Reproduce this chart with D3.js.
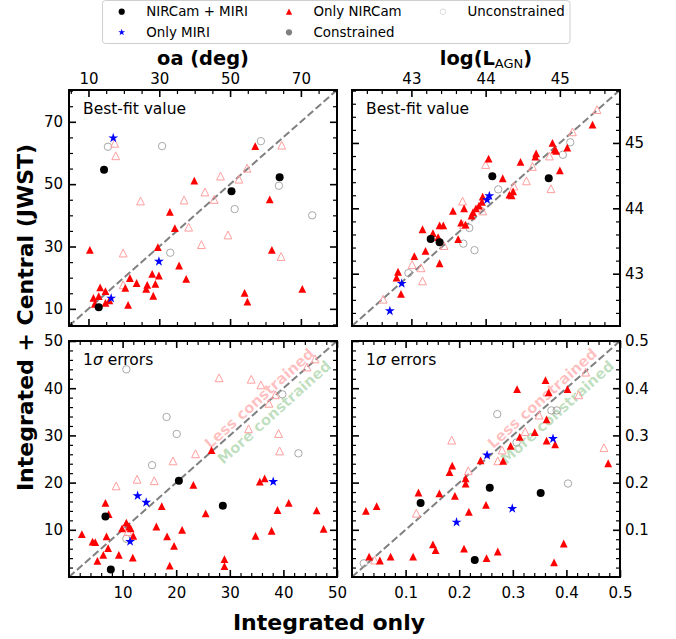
<!DOCTYPE html>
<html>
<head>
<meta charset="utf-8">
<script src="https://cdn.jsdelivr.net/npm/d3@7"></script>
<style>
  html, body { margin: 0; padding: 0; background: #fff; }
  svg { display: block; font-family: "DejaVu Sans", sans-serif; }
</style>
</head>
<body>
<svg id="chart" width="676" height="639"></svg>
<script>
// Each point: [integrated only, integrated + central (JWST)]

// Opening angle, best-fit value (deg)
const oaBestBoth = [[14.4,54.6],[50.4,47.7],[64.0,52.2],[12.9,10.5]];
const oaBestMiri = [[17.0,64.8],[29.9,25.2],[16.4,13.4]];
const oaBestNircam = [[10.4,28.9],[29.6,29.8],[33.0,41.1],[34.4,35.9],[39.9,51.1],[57.1,62.2],[61.2,45.1],[61.8,28.9],[35.6,23.9],[37.6,19.6],[28.0,21.2],[29.9,20.7],[28.9,18.0],[26.6,17.7],[26.3,16.4],[28.3,14.2],[23.6,18.3],[21.7,19.9],[20.4,16.7],[21.2,11.3],[13.3,16.9],[14.8,15.7],[11.4,13.5],[12.9,14.1],[11.8,11.6],[14.8,11.9],[15.9,12.7],[54.1,15.1],[54.9,12.3],[70.4,16.4]];
const oaBestNircamFree = [[17.4,63.1],[17.7,59.1],[24.7,44.6],[37.0,44.9],[42.9,47.5],[45.5,45.1],[47.3,52.6],[52.5,51.6],[54.8,55.1],[64.6,62.5],[38.3,36.2],[41.9,30.6],[49.4,33.7],[64.4,26.8],[19.8,27.9],[19.8,17.7]];
const oaBestFree = [[15.5,62.0],[30.8,62.2],[58.7,63.8],[63.8,49.5],[51.3,42.0],[73.2,40.0],[33.1,28.0]];

// AGN luminosity, best-fit value (log)
const lumBestBoth = [[44.09,44.49],[44.85,44.46],[43.26,43.53],[43.38,43.48]];
const lumBestMiri = [[42.71,42.43],[42.87,42.85],[44.02,44.13],[44.05,44.19]];
const lumBestNircam = [[45.44,45.28],[44.90,45.00],[44.93,44.90],[44.95,44.88],[45.10,44.93],[45.00,44.58],[44.68,44.84],[44.67,44.79],[44.47,44.71],[44.04,44.76],[44.23,44.46],[44.37,44.26],[44.32,44.21],[44.35,44.20],[43.96,44.18],[43.95,44.10],[43.91,44.04],[43.87,44.00],[43.83,43.94],[43.81,43.89],[43.56,43.96],[43.71,44.00],[43.67,43.78],[43.73,43.75],[43.38,43.74],[43.43,43.74],[43.15,43.68],[43.29,43.62],[43.36,43.56],[43.63,43.53],[43.19,43.35],[43.04,43.27],[43.38,43.16],[42.82,43.03],[42.80,42.94],[42.86,42.69]];
const lumBestNircamFree = [[42.62,42.61],[43.15,42.89],[43.13,43.09],[43.01,43.14],[43.44,43.43],[43.69,44.11],[43.96,43.96],[44.00,44.67],[44.55,44.42],[44.63,44.64],[44.88,44.30],[44.86,44.80],[45.17,45.17],[45.50,45.51],[43.70,43.75],[44.38,44.34]];
const lumBestFree = [[42.96,43.01],[43.78,43.70],[43.70,43.46],[43.85,43.36],[44.17,44.29],[45.04,44.82],[45.14,45.01]];

// Opening angle, 1-sigma errors (deg)
const oaErrBoth = [[6.8,12.8],[7.8,1.6],[20.5,20.4],[28.7,15.1]];
const oaErrMiri = [[12.8,17.2],[14.4,15.8],[11.4,7.5],[38.1,20.2]];
const oaErrNircam = [[2.4,9.1],[4.4,7.5],[4.9,7.4],[5.3,3.4],[6.4,4.7],[6.8,15.7],[7.0,8.6],[7.4,13.3],[7.3,6.1],[9.3,4.7],[9.9,10.3],[10.7,11.5],[11.2,10.7],[11.5,10.3],[12.0,8.7],[11.9,4.1],[16.3,10.7],[17.3,15.0],[18.3,8.6],[18.8,2.4],[19.6,6.6],[21.1,10.0],[23.2,19.5],[25.5,13.5],[26.6,26.9],[29.0,3.8],[29.0,2.3],[34.8,8.7],[35.6,20.2],[36.5,20.9],[37.8,9.8],[38.9,14.2],[41.0,15.7],[46.2,14.1],[47.5,10.2]];
const oaErrNircamFree = [[8.8,19.3],[12.7,20.7],[15.9,20.4],[19.4,24.6],[23.6,26.1],[28.0,42.2],[34.0,41.9],[35.8,40.7],[37.3,36.8],[38.5,38.6],[39.1,30.4],[39.3,26.7],[33.5,31.4],[44.4,44.5],[45.9,46.2],[11.0,9.6]];
const oaErrFree = [[10.7,44.0],[18.2,33.9],[20.1,30.3],[15.5,23.7],[39.8,38.7],[42.8,26.2],[10.7,8.1]];

// AGN luminosity, 1-sigma errors (dex)
const lumErrBoth = [[0.128,0.157],[0.257,0.189],[0.352,0.178],[0.229,0.036]];
const lumErrMiri = [[0.252,0.258],[0.375,0.293],[0.299,0.145],[0.195,0.116]];
const lumErrNircam = [[0.026,0.140],[0.046,0.150],[0.032,0.043],[0.052,0.035],[0.072,0.043],[0.114,0.043],[0.124,0.179],[0.151,0.069],[0.156,0.057],[0.163,0.177],[0.192,0.172],[0.209,0.060],[0.218,0.138],[0.182,0.222],[0.187,0.236],[0.212,0.209],[0.212,0.198],[0.240,0.247],[0.250,0.153],[0.251,0.040],[0.272,0.054],[0.282,0.246],[0.296,0.278],[0.308,0.398],[0.313,0.297],[0.341,0.307],[0.361,0.417],[0.367,0.391],[0.363,0.334],[0.363,0.289],[0.379,0.281],[0.402,0.398],[0.395,0.071],[0.377,0.031],[0.478,0.241]];
const lumErrNircamFree = [[0.120,0.135],[0.186,0.290],[0.217,0.225],[0.272,0.246],[0.280,0.269],[0.323,0.308],[0.349,0.343],[0.423,0.386],[0.436,0.434],[0.470,0.274],[0.042,0.036]];
const lumErrFree = [[0.022,0.029],[0.271,0.345],[0.372,0.353],[0.382,0.353],[0.403,0.198],[0.307,0.285]];

// Axis limits and tick labels
const oaBestLim = [4.5, 80.2];
const lumBestLim = [42.2, 45.81];
const oaErrLim = [0, 50];
const lumErrLim = [0, 0.5];
const oaBestTicks = [10, 30, 50, 70];
const lumBestTicks = [43, 44, 45];
const oaErrTicks = [10, 20, 30, 40, 50];
const lumErrTicks = [0.1, 0.2, 0.3, 0.4, 0.5];

const legendLabels = ["NIRCam + MIRI", "Only NIRCam", "Unconstrained", "Only MIRI", "Constrained"];

// ---------------------------------------------------------------
const svg = d3.select("#chart");
const FONT = "DejaVu Sans";
const PW = 268, PH = 236;

const triPath = s => `M0,${-s}L${s},${s}L${-s},${s}Z`;
const starPath = r => d3.symbol(d3.symbolStar, r * r / 0.8908130915292852)();
const circPath = r => d3.symbol(d3.symbolCircle, Math.PI * r * r)();

// marker styles, in drawing order: unconstrained first
const markerStyles = [
  { d: circPath(3.7), fill: "none", stroke: "#a8a8a8", sw: 1 },      // unconstrained
  { d: triPath(3.9), fill: "none", stroke: "#ff9e9e", sw: 1 },       // unconstrained, only NIRCam
  { d: triPath(3.9), fill: "#ff0000", stroke: "none", sw: 0 },       // only NIRCam
  { d: circPath(4.0), fill: "#000000", stroke: "none", sw: 0 },      // NIRCam + MIRI
  { d: starPath(5.2), fill: "#0000ff", stroke: "none", sw: 0 }       // only MIRI
];

const panels = [
  { x0: 69, y0: 90, lim: oaBestLim, ticks: oaBestTicks, minor: 5, fmt: d3.format("d"),
    labels: { top: true, left: true }, note: "best",
    sets: [oaBestFree, oaBestNircamFree, oaBestNircam, oaBestBoth, oaBestMiri] },
  { x0: 352, y0: 90, lim: lumBestLim, ticks: lumBestTicks, minor: 0.2, fmt: d3.format("d"),
    labels: { top: true, right: true }, note: "best",
    sets: [lumBestFree, lumBestNircamFree, lumBestNircam, lumBestBoth, lumBestMiri] },
  { x0: 69, y0: 341, lim: oaErrLim, ticks: oaErrTicks, minor: 2, fmt: d3.format("d"),
    labels: { bottom: true, left: true }, note: "err",
    sets: [oaErrFree, oaErrNircamFree, oaErrNircam, oaErrBoth, oaErrMiri] },
  { x0: 352, y0: 341, lim: lumErrLim, ticks: lumErrTicks, minor: 0.02, fmt: d3.format(".1f"),
    labels: { bottom: true, right: true }, note: "err",
    sets: [lumErrFree, lumErrNircamFree, lumErrNircam, lumErrBoth, lumErrMiri] }
];

function minorValues(lim, step, major) {
  const lo = Math.ceil(lim[0] / step - 1e-9), hi = Math.floor(lim[1] / step + 1e-9);
  return d3.range(lo, hi + 1).map(i => +(i * step).toFixed(6))
    .filter(v => v > lim[0] + 1e-9 && v < lim[1] - 1e-9)
    .filter(v => !major.some(m => Math.abs(m - v) < step / 10));
}

function styleAxis(g) {
  g.select(".domain").remove();
  g.attr("font-family", FONT).attr("font-size", 15);
  g.selectAll("text").attr("fill", "#000");
}

panels.forEach(p => {
  const x = d3.scaleLinear().domain(p.lim).range([p.x0, p.x0 + PW]);
  const y = d3.scaleLinear().domain(p.lim).range([p.y0 + PH, p.y0]);
  const g = svg.append("g");
  const minors = minorValues(p.lim, p.minor, p.ticks);

  // "less / more constrained" guides in the error panels
  if (p.note === "err") {
    const tl = g.append("text").attr("font-family", FONT).attr("font-weight", "bold")
      .attr("font-size", 14.8).attr("text-anchor", "middle").attr("dominant-baseline", "central");
    tl.clone().attr("transform", `translate(${p.x0 + 190},${p.y0 + 57}) rotate(-42)`)
      .attr("fill", "rgba(255,0,0,0.25)").text("Less constrained");
    tl.clone().attr("transform", `translate(${p.x0 + 205},${p.y0 + 71}) rotate(-42)`)
      .attr("fill", "rgba(0,128,0,0.25)").text("More constrained");
    tl.remove();
  }

  // one-to-one line
  g.append("line")
    .attr("x1", x(p.lim[0])).attr("y1", y(p.lim[0]))
    .attr("x2", x(p.lim[1])).attr("y2", y(p.lim[1]))
    .attr("stroke", "#808080").attr("stroke-width", 2)
    .attr("stroke-dasharray", "7.4,3.2");

  // points
  p.sets.forEach((set, i) => {
    const st = markerStyles[i];
    g.append("g").selectAll("path").data(set).join("path")
      .attr("d", st.d)
      .attr("transform", d => `translate(${x(d[0])},${y(d[1])})`)
      .attr("fill", st.fill).attr("stroke", st.stroke).attr("stroke-width", st.sw);
  });

  // ticks on all four sides, pointing inwards
  const sides = [
    { gen: d3.axisTop, scale: x, tr: `translate(0,${p.y0})`, key: "top", pad: 6.5 },
    { gen: d3.axisBottom, scale: x, tr: `translate(0,${p.y0 + PH})`, key: "bottom", pad: 10.5 },
    { gen: d3.axisLeft, scale: y, tr: `translate(${p.x0},0)`, key: "left", pad: 6 },
    { gen: d3.axisRight, scale: y, tr: `translate(${p.x0 + PW},0)`, key: "right", pad: 5 }
  ];
  sides.forEach(s => {
    g.append("g").attr("transform", s.tr)
      .call(s.gen(s.scale).tickValues(minors).tickSizeInner(-4).tickSizeOuter(0).tickFormat(""))
      .call(styleAxis)
      .selectAll("line").attr("stroke", "#000").attr("stroke-width", 1.2);
    g.append("g").attr("transform", s.tr)
      .call(s.gen(s.scale).tickValues(p.ticks).tickSizeInner(-7).tickSizeOuter(0)
        .tickPadding(s.pad).tickFormat(p.labels[s.key] ? p.fmt : ""))
      .call(styleAxis)
      .selectAll("line").attr("stroke", "#000").attr("stroke-width", 1.6);
  });

  // frame
  g.append("rect").attr("x", p.x0).attr("y", p.y0).attr("width", PW).attr("height", PH)
    .attr("fill", "none").attr("stroke", "#000").attr("stroke-width", 2);

  // panel annotation
  const note = g.append("text").attr("x", p.x0 + 14).attr("y", p.y0 + 24)
    .attr("font-family", FONT).attr("font-size", 15.5).attr("fill", "#000");
  if (p.note === "best") {
    note.text("Best-fit value");
  } else {
    note.append("tspan").text("1");
    note.append("tspan").attr("font-style", "italic").text("σ");
    note.append("tspan").text(" errors");
  }
});

// column titles
svg.append("text").attr("x", 203).attr("y", 65).attr("text-anchor", "middle")
  .attr("font-family", FONT).attr("font-weight", "bold").attr("font-size", 19.4)
  .text("oa (deg)");
const lt = svg.append("text").attr("x", 486).attr("y", 65).attr("text-anchor", "middle")
  .attr("font-family", FONT).attr("font-weight", "bold").attr("font-size", 19.4);
lt.append("tspan").text("log(L");
lt.append("tspan").attr("font-weight", "normal").attr("font-size", 13).attr("dy", 3).text("AGN");
lt.append("tspan").attr("dy", -3).text(")");

// shared axis labels
svg.append("text").attr("transform", "translate(33,317.5) rotate(-90)")
  .attr("text-anchor", "middle").attr("font-family", FONT).attr("font-weight", "bold")
  .attr("font-size", 22).text("Integrated + Central (JWST)");
svg.append("text").attr("x", 329).attr("y", 630).attr("text-anchor", "middle")
  .attr("font-family", FONT).attr("font-weight", "bold").attr("font-size", 22)
  .text("Integrated only");

// legend
const lg = svg.append("g");
lg.append("rect").attr("x", 102.5).attr("y", 0.5).attr("width", 467.5).attr("height", 43)
  .attr("rx", 3).attr("fill", "#fff").attr("stroke", "#cfcfcf").attr("stroke-width", 1);
const legendMarkers = [
  { d: circPath(3.1), fill: "#000", stroke: "none" },
  { d: triPath(3.1), fill: "#ff0000", stroke: "none" },
  { d: circPath(2.8), fill: "none", stroke: "#dcdcdc" },
  { d: starPath(3.6), fill: "#0000ff", stroke: "none" },
  { d: circPath(3.1), fill: "#808080", stroke: "none" }
];
const legendCols = [121.7, 289, 443];
const legendRows = [11.7, 32.3];
legendLabels.forEach((lab, i) => {
  const col = i % 3, row = Math.floor(i / 3);
  const m = legendMarkers[i];
  lg.append("path").attr("d", m.d)
    .attr("transform", `translate(${legendCols[col]},${legendRows[row]})`)
    .attr("fill", m.fill).attr("stroke", m.stroke).attr("stroke-width", 1);
  lg.append("text").attr("x", legendCols[col] + 24.5).attr("y", legendRows[row])
    .attr("dominant-baseline", "central").attr("font-family", FONT).attr("font-size", 13.4)
    .attr("fill", "#000").text(lab);
});
</script>
</body>
</html>
